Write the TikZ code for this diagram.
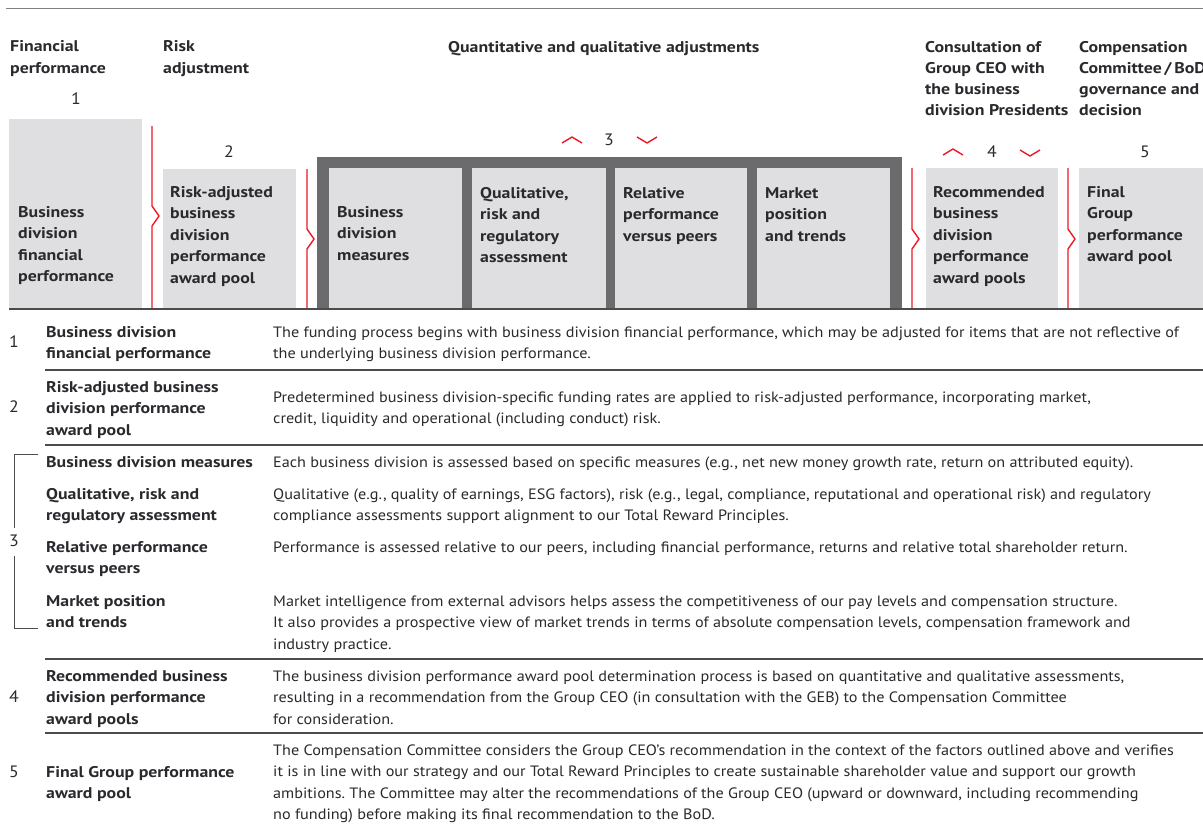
\documentclass[tikz,border=0pt]{standalone}
\usepackage{fontspec}
\setmainfont{PT Sans}
\newfontfamily\labelfont{PT Sans}[FakeStretch = 1.15]
\newfontfamily\bodyfont{PT Sans}[FakeStretch = 1.08]
\usetikzlibrary{positioning}
\frenchspacing
\definecolor{ink}{rgb}{0.16, 0.16, 0.18}
\definecolor{boxgrey}{rgb}{0.875, 0.875, 0.885}
\definecolor{framegrey}{rgb}{0.42, 0.42, 0.43}
\definecolor{rulegrey}{rgb}{0.3, 0.3, 0.31}
\definecolor{ubsred}{rgb}{0.93, 0.1, 0.15}
\tikzset{head/.style = {anchor = base west, align = left, inner sep = 0, text = ink,
                        font = \labelfont\bfseries\fontsize{15.5}{21.5}\selectfont}}
\tikzset{desc/.style = {anchor = base west, align = left, inner sep = 0, text = ink,
                        font = \bodyfont\fontsize{15}{21.5}\selectfont}}
\tikzset{num/.style = {inner sep = 0, text = ink, font = \bodyfont\fontsize{16.5}{16.5}\selectfont}}
\tikzset{pool/.style = {fill = boxgrey}}
\tikzset{sep/.style = {ubsred, line width = 1.4pt, line join = round}}
\tikzset{rule/.style = {rulegrey, line width = 1.6pt}}
% red separator with a small kink: x, top, bottom, kink
\newcommand{\kinkline}[4]{\draw [sep] (#1, #2) -- (#1, #4 - 10) -- (#1 + 7, #4) -- (#1, #4 + 10) -- (#1, #3);}

\begin{document}
\begin{tikzpicture}[x = 1pt, y = -1pt]
    \useasboundingbox (0, 0) rectangle (1203, 823);
    \draw [gray, line width = 0.8pt] (6, 8) -- (1203, 8);

    % column headings (base = last line)
    \node [head] (hfin) at (10, 73) {Financial\\performance};
    \node [head] (hrisk) at (163, 73) {Risk\\adjustment};
    \node [head] (hadj) at (448, 52.5) {Quantitative and qualitative adjustments};
    \node [head, font = \labelfont\bfseries\fontsize{15.5}{21}\selectfont] (hceo) at (925, 115) {Consultation of\\Group CEO with\\the business\\division Presidents};
    \node [head, font = \labelfont\bfseries\fontsize{15.5}{21}\selectfont] (hbod) at (1079, 115) {Compensation\\Committee\,/\,BoD\\governance and\\decision};

    \node [num] (s1) at (76, 99) {1};
    \node [num] (s2) at (229, 152) {2};
    \node [num] (s3) at (609, 140) {3};
    \node [num] (s4) at (992, 152) {4};
    \node [num] (s5) at (1145, 152) {5};
    \draw [sep] (562, 143) -- (572, 137) -- (582, 143);
    \draw [sep] (637, 137) -- (647, 143) -- (657, 137);
    \draw [sep] (943, 155) -- (953, 149) -- (963, 155);
    \draw [sep] (1020, 150) -- (1030, 156) -- (1040, 150);

    % boxes
    \fill [pool] (9, 119) rectangle (142, 309);
    \fill [pool] (163, 169) rectangle (296, 309);
    \fill [framegrey] (317, 157) rectangle (902, 309);
    \fill [pool] (329, 168) rectangle (462, 309);
    \fill [pool] (472, 168) rectangle (606, 309);
    \fill [pool] (615, 168) rectangle (747, 309);
    \fill [pool] (757, 168) rectangle (890, 309);
    \fill [pool] (926, 168) rectangle (1058, 309);
    \fill [pool] (1079, 168) rectangle (1203, 309);

    \kinkline{152}{126}{309}{216}
    \kinkline{307}{169}{309}{239}
    \kinkline{912}{168}{309}{239}
    \kinkline{1068}{168}{309}{239}

    \node [head] (b1) at (18, 281.5) {Business\\division\\financial\\performance};
    \node [head] (b2) at (170, 283) {Risk-adjusted\\business\\division\\performance\\award pool};
    \node [head] (b3a) at (337, 260) {Business\\division\\measures};
    \node [head] (b3b) at (480, 262.5) {Qualitative,\\risk and\\regulatory\\assessment};
    \node [head] (b3c) at (623, 241) {Relative\\performance\\versus peers};
    \node [head] (b3d) at (765, 241) {Market\\position\\and trends};
    \node [head] (b4) at (933, 283) {Recommended\\business\\division\\performance\\award pools};
    \node [head] (b5) at (1087, 261.5) {Final\\Group\\performance\\award pool};

    % table
    \draw [rule] (9, 309) -- (1203, 309);
    \draw [rule] (45, 370) -- (1203, 370);
    \draw [rule] (45, 445) -- (1203, 445);
    \draw [rule] (45, 659) -- (1203, 659);
    \draw [rule] (45, 733) -- (1203, 733);

    \node [num] (r1) at (14, 342) {1};
    \node [num] (r2) at (14, 407) {2};
    \node [num] (r3) at (14, 541) {3};
    \node [num] (r4) at (14, 697) {4};
    \node [num] (r5) at (14, 772) {5};
    \draw [rulegrey, line width = 0.9pt] (38, 454) -- (14, 454) -- (14, 528);
    \draw [rulegrey, line width = 0.9pt] (14, 556) -- (14, 628) -- (38, 628);

    \node [head] (l1) at (46, 358.5) {Business division\\financial performance};
    \node [head] (l2) at (46, 435) {Risk-adjusted business\\division performance\\award pool};
    \node [head] (l3a) at (46, 467) {Business division measures};
    \node [head] (l3b) at (46, 520.5) {Qualitative, risk and\\regulatory assessment};
    \node [head] (l3c) at (46, 573.5) {Relative performance\\versus peers};
    \node [head] (l3d) at (46, 627.5) {Market position\\and trends};
    \node [head] (l4) at (46, 724) {Recommended business\\division performance\\award pools};
    \node [head] (l5) at (46, 798.5) {Final Group performance\\award pool};

    \node [desc] (d1) at (273, 358.5) {The funding process begins with business division financial performance, which may be adjusted for items that are not reflective of\\the underlying business division performance.};
    \node [desc] (d2) at (273, 423.5) {Predetermined business division-specific funding rates are applied to risk-adjusted performance, incorporating market,\\credit, liquidity and operational (including conduct) risk.};
    \node [desc] (d3a) at (273, 467) {Each business division is assessed based on specific measures (e.g., net new money growth rate, return on attributed equity).};
    \node [desc] (d3b) at (273, 520.5) {Qualitative (e.g., quality of earnings, ESG factors), risk (e.g., legal, compliance, reputational and operational risk) and regulatory\\compliance assessments support alignment to our Total Reward Principles.};
    \node [desc] (d3c) at (273, 552) {Performance is assessed relative to our peers, including financial performance, returns and relative total shareholder return.};
    \node [desc] (d3d) at (273, 649) {Market intelligence from external advisors helps assess the competitiveness of our pay levels and compensation structure.\\It also provides a prospective view of market trends in terms of absolute compensation levels, compensation framework and\\industry practice.};
    \node [desc] (d4) at (273, 724) {The business division performance award pool determination process is based on quantitative and qualitative assessments,\\resulting in a recommendation from the Group CEO (in consultation with the GEB) to the Compensation Committee\\for consideration.};
    \node [desc] (d5) at (273, 819.5) {The Compensation Committee considers the Group CEO’s recommendation in the context of the factors outlined above and verifies\\it is in line with our strategy and our Total Reward Principles to create sustainable shareholder value and support our growth\\ambitions. The Committee may alter the recommendations of the Group CEO (upward or downward, including recommending\\no funding) before making its final recommendation to the BoD.};
\end{tikzpicture}
\end{document}
